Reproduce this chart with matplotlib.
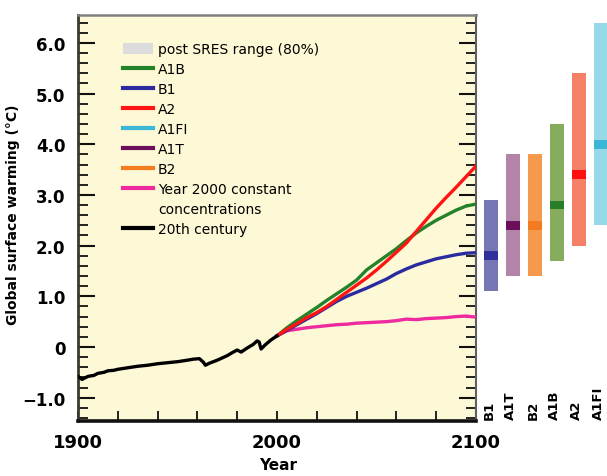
import matplotlib
matplotlib.use("Agg")
import matplotlib.pyplot as plt
from matplotlib.lines import Line2D
from matplotlib.patches import Patch
from matplotlib.ticker import MultipleLocator, FixedLocator

# ---------------- data ----------------
hist_years = [1900, 1902, 1905, 1908, 1910, 1913, 1915, 1918, 1920, 1925, 1930, 1935,
              1940, 1945, 1950, 1955, 1958, 1961, 1963, 1964, 1966, 1970, 1975, 1978,
              1980, 1982, 1985, 1988, 1990, 1991, 1992, 1994, 1997, 2000]
hist_temp = [-0.58, -0.64, -0.58, -0.56, -0.52, -0.50, -0.47, -0.46, -0.44, -0.41, -0.38, -0.36,
             -0.33, -0.31, -0.29, -0.26, -0.24, -0.23, -0.30, -0.36, -0.32, -0.26, -0.17, -0.10,
             -0.06, -0.10, -0.02, 0.05, 0.12, 0.10, -0.04, 0.04, 0.14, 0.22]

proj_years = [2000, 2005, 2010, 2015, 2020, 2025, 2030, 2035, 2040, 2045, 2050,
              2055, 2060, 2065, 2070, 2075, 2080, 2085, 2090, 2095, 2100]
a1b = [0.22, 0.38, 0.52, 0.65, 0.78, 0.92, 1.05, 1.18, 1.32, 1.52, 1.66,
       1.80, 1.94, 2.10, 2.25, 2.38, 2.50, 2.60, 2.70, 2.78, 2.82]
b1 = [0.22, 0.33, 0.44, 0.55, 0.66, 0.78, 0.90, 1.00, 1.08, 1.16, 1.25,
      1.34, 1.45, 1.54, 1.62, 1.68, 1.74, 1.78, 1.82, 1.85, 1.86]
a2 = [0.22, 0.35, 0.46, 0.58, 0.68, 0.80, 0.94, 1.08, 1.22, 1.36, 1.52,
      1.69, 1.87, 2.05, 2.28, 2.51, 2.74, 2.95, 3.15, 3.36, 3.57]
commit = [0.22, 0.32, 0.35, 0.38, 0.40, 0.42, 0.44, 0.45, 0.47, 0.48, 0.49,
          0.50, 0.52, 0.55, 0.54, 0.56, 0.57, 0.58, 0.60, 0.61, 0.59]

scenarios = ["B1", "A1T", "B2", "A1B", "A2", "A1FI"]
range_low = [1.1, 1.4, 1.4, 1.7, 2.0, 2.4]
range_high = [2.9, 3.8, 3.8, 4.4, 5.4, 6.4]
best_est = [1.8, 2.4, 2.4, 2.8, 3.4, 4.0]

y_ticks = [-1.0, 0, 1.0, 2.0, 3.0, 4.0, 5.0, 6.0]
y_ticklabels = ["\u22121.0", "0", "1.0", "2.0", "3.0", "4.0", "5.0", "6.0"]
x_ticks = [1900, 2000, 2100]
x_ticklabels = ["1900", "2000", "2100"]

# ---------------- style ----------------
c_green, c_blue, c_red = "#23822a", "#2b2ba0", "#ff1414"
c_cyan, c_purple, c_orange = "#3ab7d6", "#6b0f5c", "#f47c20"
c_pink, c_black = "#ee2aa0", "#000000"
bar_light = ["#7676b4", "#b484a8", "#f59a4c", "#86ac5e", "#f58068", "#97d9e8"]
bar_dark = ["#30309a", "#6b0f5c", "#f47c20", "#2a7d2a", "#ff1010", "#3ab7d6"]

W, H = 607, 477
fig = plt.figure(figsize=(W / 100, H / 100), dpi=100)
fig.patch.set_facecolor("white")

L, R, T, B = 78, 476, 16, 422
ax = fig.add_axes([L / W, 1 - B / H, (R - L) / W, (B - T) / H])
ax.set_facecolor("#fdf8d5")

lw = 2.4
ax.plot(proj_years, commit, color=c_pink, lw=lw, zorder=3)
ax.plot(proj_years, b1, color=c_blue, lw=lw, zorder=4)
ax.plot(proj_years, a1b, color=c_green, lw=lw, zorder=5)
ax.plot(proj_years, a2, color=c_red, lw=lw, zorder=6)
ax.plot(hist_years, hist_temp, color=c_black, lw=lw, zorder=7)

ax.set_xlim(1900, 2100)
ax.set_ylim(-1.46, 6.55)

ax.yaxis.set_major_locator(FixedLocator(y_ticks))
ax.set_yticklabels(y_ticklabels)
ax.yaxis.set_minor_locator(MultipleLocator(0.2))
ax.xaxis.set_major_locator(FixedLocator(x_ticks))
ax.set_xticklabels(x_ticklabels)
ax.xaxis.set_minor_locator(MultipleLocator(20))

ax.tick_params(axis="y", which="major", direction="in", length=12, width=1.5,
               left=True, right=True, labelsize=12, pad=9, colors="#111111")
ax.tick_params(axis="y", which="minor", direction="in", length=7, width=1.3,
               left=True, right=True, colors="#111111")
ax.tick_params(axis="x", which="major", direction="in", length=7, width=1.3,
               bottom=True, top=False, labelsize=13, pad=9, colors="#111111")
ax.tick_params(axis="x", which="minor", direction="in", length=7, width=1.3,
               bottom=True, top=False, colors="#111111")
for lab in ax.get_xticklabels() + ax.get_yticklabels():
    lab.set_fontweight("bold")
    lab.set_color("black")

ax.spines["left"].set_color("#3a3a30")
ax.spines["left"].set_linewidth(2)
ax.spines["bottom"].set_color("#111111")
ax.spines["bottom"].set_linewidth(2.6)
ax.spines["top"].set_color("#808080")
ax.spines["top"].set_linewidth(1.8)
ax.spines["right"].set_color("#606060")
ax.spines["right"].set_linewidth(1.5)

ax.set_ylabel("Global surface warming (\u00b0C)", fontsize=10, fontweight="bold")
ax.yaxis.set_label_coords((20 - L) / (R - L), (B - 215) / (B - T))
ax.set_xlabel("Year", fontsize=11, fontweight="bold")
ax.xaxis.set_label_coords((278 - L) / (R - L), -(458 - B) / (B - T))

handles = [
    Patch(facecolor="#dcdcdc", edgecolor="none"),
    Line2D([], [], color=c_green, lw=3),
    Line2D([], [], color=c_blue, lw=3),
    Line2D([], [], color=c_red, lw=3),
    Line2D([], [], color=c_cyan, lw=3),
    Line2D([], [], color=c_purple, lw=3),
    Line2D([], [], color=c_orange, lw=3),
    Line2D([], [], color=c_pink, lw=3),
    Line2D([], [], color="none", lw=0),
    Line2D([], [], color=c_black, lw=3),
]
labels = ["post SRES range (80%)", "A1B", "B1", "A2", "A1FI", "A1T", "B2",
          "Year 2000 constant", "concentrations", "20th century"]
leg = ax.legend(handles, labels, loc="upper left",
                bbox_to_anchor=((123 - L) / (R - L), 1 - (43 - T) / (B - T)),
                frameon=False, fontsize=10, handlelength=2.16, handleheight=0.85,
                handletextpad=0.36, labelspacing=0.43, borderpad=0, borderaxespad=0)

# ---------------- right-hand range bars ----------------
x0 = 480
ax2 = fig.add_axes([x0 / W, 1 - B / H, 132 / W, (B - T) / H])
ax2.set_xlim(-0.5, 5.5)
ax2.set_ylim(-1.46, 6.55)
ax2.axis("off")
xs = list(range(len(scenarios)))
heights = [h - l for h, l in zip(range_high, range_low)]
ax2.bar(xs, heights, bottom=range_low, width=0.62, color=bar_light, zorder=2)
ax2.bar(xs, [0.17] * len(xs), bottom=[b - 0.085 for b in best_est], width=0.66,
        color=bar_dark, zorder=3)
for x, s in zip(xs, scenarios):
    ax2.text(x - 0.1, -1.42, s, rotation=90, ha="center", va="bottom",
             fontsize=9.5, fontweight="bold", clip_on=False)

fig.savefig("out.png", dpi=100)
